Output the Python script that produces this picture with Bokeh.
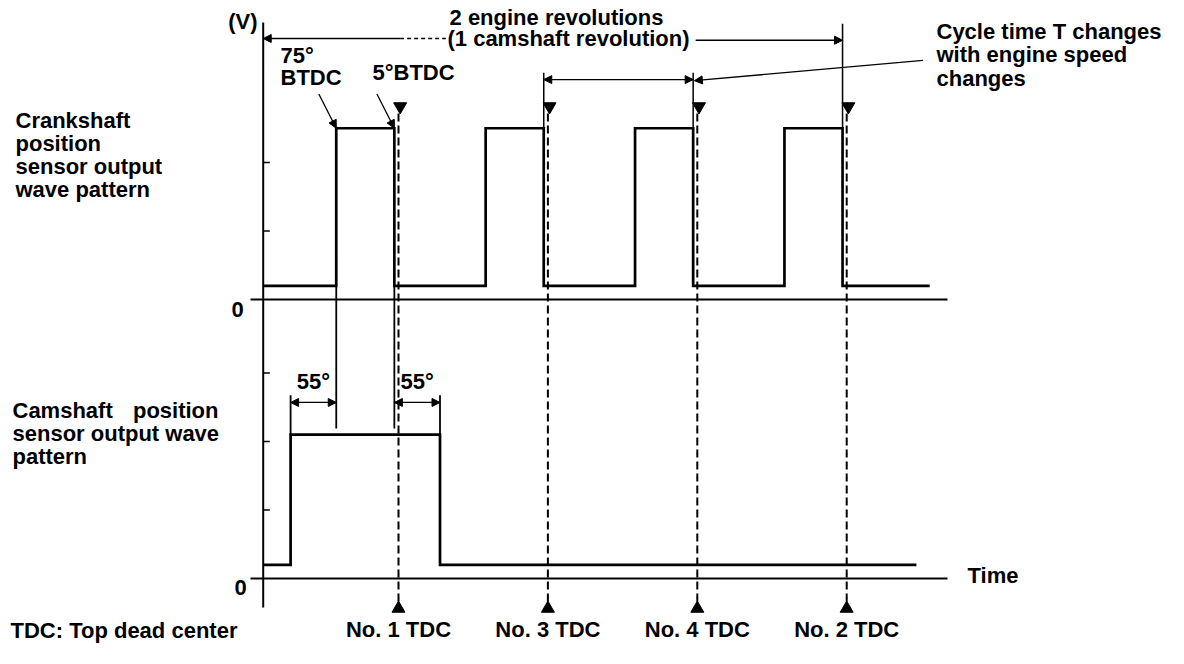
from bokeh.plotting import figure
from bokeh.models import Range1d, Arrow, NormalHead
from bokeh.core.properties import value
from bokeh.embed import file_html
from bokeh.resources import INLINE

# ---------------- data ----------------
TDC_LABELS = ["No. 1 TDC", "No. 3 TDC", "No. 4 TDC", "No. 2 TDC"]
TDC_DEG = [0, 180, 360, 540]          # crank angle of each TDC (deg)
CKP_RISE_BTDC = [75, 75, 75, 75]      # crank pulse rising edge, deg BTDC
CKP_FALL_BTDC = [5, 5, 5, 5]          # crank pulse falling edge, deg BTDC
CMP_OFFSET_DEG = [55, 55]             # cam edge lead / lag vs. crank edges
CKP_LEVELS = [0.4, 5.0]               # crank sensor low / high (V)
CMP_LEVELS = [0.4, 4.2]               # cam sensor low / high (V)
TRACE_START_DEG = -163
CKP_END_DEG = 640
CMP_END_DEG = 624
CKP_VOLT_TICKS = [2, 4]
CMP_VOLT_TICKS = [2, 4, 6]

# ---------------- layout helpers ----------------
W, H = 1168, 648
OFF = 0                # canvas origin in reference pixels
DEG_PX = 0.83          # pixels per crank degree
X0_PX = 398            # x of 0 deg
V_PX = 34.25           # pixels per volt
CKP_ZERO_PX = 299
CMP_ZERO_PX = 578
TEXT_FIX = 8           # rendered baseline sits this much below the anchor
FONT = value("Liberation Sans")

def deg_at(px):
    return (px - X0_PX) / DEG_PX

p = figure(width=W, height=H, output_backend="svg", toolbar_location=None,
           x_range=Range1d(deg_at(OFF), deg_at(OFF + W)),
           y_range=Range1d((CKP_ZERO_PX - (OFF + H)) / V_PX, (CKP_ZERO_PX - OFF) / V_PX),
           x_axis_location=None, y_axis_location=None, min_border=0)
p.extra_y_ranges = {
    "cmp": Range1d((CMP_ZERO_PX - (OFF + H)) / V_PX, (CMP_ZERO_PX - OFF) / V_PX),
    "px": Range1d(OFF + H, OFF),
}
p.extra_x_ranges = {"px": Range1d(OFF, OFF + W)}
p.grid.visible = False
p.outline_line_color = None
p.background_fill_color = "white"
p.border_fill_color = "white"

K = "black"

# ---------------- waveforms ----------------
lo, hi = CKP_LEVELS
ck_x, ck_y = [TRACE_START_DEG], [lo]
rises, falls = [], []
for tdc, r, f in zip(TDC_DEG, CKP_RISE_BTDC, CKP_FALL_BTDC):
    rises.append(tdc - r)
    falls.append(tdc - f)
    ck_x += [tdc - r, tdc - r, tdc - f, tdc - f]
    ck_y += [lo, hi, hi, lo]
ck_x.append(CKP_END_DEG)
ck_y.append(lo)
p.line(ck_x, ck_y, line_color=K, line_width=2.7, line_join="miter")

clo, chi = CMP_LEVELS
cam_rise = rises[0] - CMP_OFFSET_DEG[0]
cam_fall = falls[0] + CMP_OFFSET_DEG[1]
cm_x = [TRACE_START_DEG, cam_rise, cam_rise, cam_fall, cam_fall, CMP_END_DEG]
cm_y = [clo, clo, chi, chi, clo, clo]
p.line(cm_x, cm_y, line_color=K, line_width=2.7, line_join="miter", y_range_name="cmp")

# ---------------- axes ----------------
p.segment(x0=[TRACE_START_DEG], x1=[TRACE_START_DEG], y0=[22], y1=[607],
          y_range_name="px", line_color=K, line_width=2)
p.segment(x0=[250], x1=[947], y0=[0], y1=[0], x_range_name="px", line_color=K, line_width=2)
p.segment(x0=[250], x1=[947], y0=[0], y1=[0], x_range_name="px", y_range_name="cmp",
          line_color=K, line_width=2)
p.segment(x0=[TRACE_START_DEG] * len(CKP_VOLT_TICKS), x1=[TRACE_START_DEG + 8] * len(CKP_VOLT_TICKS),
          y0=CKP_VOLT_TICKS, y1=CKP_VOLT_TICKS, line_color=K, line_width=1.5)
p.segment(x0=[TRACE_START_DEG] * len(CMP_VOLT_TICKS), x1=[TRACE_START_DEG + 8] * len(CMP_VOLT_TICKS),
          y0=CMP_VOLT_TICKS, y1=CMP_VOLT_TICKS, y_range_name="cmp", line_color=K, line_width=1.5)

# ---------------- TDC markers ----------------
n = len(TDC_DEG)
p.segment(x0=TDC_DEG, x1=TDC_DEG, y0=[113] * n, y1=[602] * n, y_range_name="px",
          line_color=K, line_width=2, line_dash="8 4")
p.scatter(x=[d + 2 for d in TDC_DEG], y=[106] * n, marker="inverted_triangle", size=13,
          y_range_name="px", fill_color=K, line_color=K)
p.scatter(x=TDC_DEG, y=[608] * n, marker="triangle", size=13,
          y_range_name="px", fill_color=K, line_color=K)

def txt(x, y, t, align="left", xr="px"):
    p.text(x=x, y=[v - TEXT_FIX for v in y], text=t, x_range_name=xr, y_range_name="px",
           text_font=FONT, text_font_style="bold", text_font_size="22px",
           text_align=align, text_baseline="alphabetic", text_color=K)

txt(TDC_DEG, [637] * n, TDC_LABELS, align="center", xr="default")

# ---------------- extension / dimension lines ----------------
# crank pulse-1 edges extended down into cam panel
p.segment(x0=[rises[0], falls[0]], x1=[rises[0], falls[0]], y0=[285, 285], y1=[428, 428],
          y_range_name="px", line_color=K, line_width=1.8)
# cam edges extension
p.segment(x0=[cam_rise, cam_fall], x1=[cam_rise, cam_fall], y0=[chi, chi], y1=[5.35, 5.35],
          y_range_name="cmp", line_color=K, line_width=1.8)

def head():
    return NormalHead(size=8, fill_color=K, line_color=K, line_width=1)

DIM_Y_CMP = 5.14
p.add_layout(Arrow(start=head(), end=head(), x_start=cam_rise, x_end=rises[0],
                   y_start=DIM_Y_CMP, y_end=DIM_Y_CMP, y_range_name="cmp",
                   line_color=K, line_width=1.3))
p.add_layout(Arrow(start=head(), end=head(), x_start=falls[0], x_end=cam_fall,
                   y_start=DIM_Y_CMP, y_end=DIM_Y_CMP, y_range_name="cmp",
                   line_color=K, line_width=1.3))
txt([(cam_rise + rises[0]) / 2, (falls[0] + cam_fall) / 2], [389, 389],
    [f"{CMP_OFFSET_DEG[0]}°", f"{CMP_OFFSET_DEG[1]}°"], align="center", xr="default")

# leader arrows to crank pulse-1 corners
for xe in (rises[0], falls[0]):
    p.add_layout(Arrow(end=head(), x_start=xe - 21, y_start=hi + 1.0, x_end=xe, y_end=hi,
                       line_color=K, line_width=1.3))

# cycle time T dimension
CYC_Y = 6.42
p.segment(x0=[falls[1], falls[2]], x1=[falls[1], falls[2]], y0=[hi, hi], y1=[6.62, 6.62],
          line_color=K, line_width=1.5)
p.add_layout(Arrow(start=head(), end=head(), x_start=falls[1], x_end=falls[2],
                   y_start=CYC_Y, y_end=CYC_Y, line_color=K, line_width=1.3))
p.add_layout(Arrow(end=head(), x_start=632, y_start=6.98, x_end=falls[2] + 1.5, y_end=CYC_Y - 0.03,
                   line_color=K, line_width=1.3))

# 2 engine revolutions dimension
REV_Y = 7.62
p.segment(x0=[falls[3]], x1=[falls[3]], y0=[hi], y1=[8.05], line_color=K, line_width=1.5)
p.add_layout(Arrow(end=head(), x_start=2, x_end=TRACE_START_DEG, y_start=REV_Y, y_end=REV_Y,
                   line_color=K, line_width=1.3))
p.segment(x0=[2], x1=[57], y0=[REV_Y], y1=[REV_Y], line_color=K, line_width=1.3, line_dash="4 3")
p.add_layout(Arrow(end=head(), x_start=358, x_end=falls[3], y_start=REV_Y - 0.05, y_end=REV_Y - 0.05,
                   line_color=K, line_width=1.3))

# ---------------- text ----------------
txt([257], [29], ["(V)"], align="right")
txt([556, 568], [25, 46], ["2 engine revolutions", "(1 camshaft revolution)"], align="center")
txt([280, 280, 372], [63, 85, 80], ["75°", "BTDC", "5°BTDC"])
txt([936, 936, 936], [39, 62, 86], ["Cycle time T changes", "with engine speed", "changes"])
txt([15] * 4, [128, 151, 174, 197], ["Crankshaft", "position", "sensor output", "wave pattern"])
txt([12, 12, 12], [418, 441, 464], ["Camshaft", "sensor output wave", "pattern"])
txt([218], [418], ["position"], align="right")
txt([237, 240], [317, 595], ["0", "0"], align="center")
txt([967], [583], ["Time"])
txt([10], [638], ["TDC: Top dead center"])

open("out.html", "w").write(file_html(p, INLINE))
